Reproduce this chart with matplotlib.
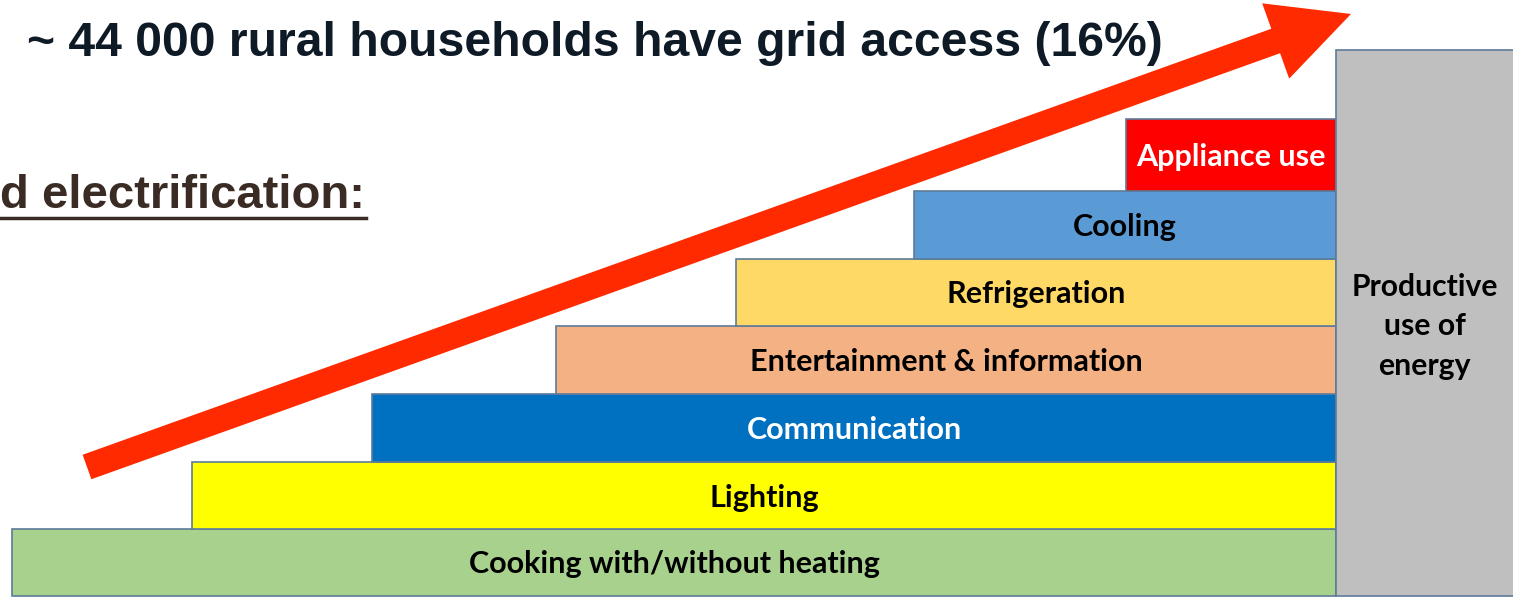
import matplotlib
matplotlib.use("Agg")
import matplotlib.pyplot as plt
from matplotlib.patches import FancyArrow, Rectangle

# ---- data ----
categories = ["Cooking with/without heating", "Lighting", "Communication",
              "Entertainment & information", "Refrigeration", "Cooling",
              "Appliance use"]
step_start = [12, 192, 372, 556, 736, 914, 1126]      # left edge of each step
step_end = 1336
row_edges = [596, 529, 462, 394, 326, 259, 191, 119]  # bottom -> top
colors = ["#A9D18E", "#FFFF00", "#0070C0", "#F4B183", "#FFD966", "#5B9BD5", "#FF0000"]
text_colors = ["black", "black", "white", "black", "black", "black", "white"]
side_label = "Productive\nuse of\nenergy"
title = "~ 44 000 rural households have grid access (16%)"
subtitle = "d electrification:"

W, H = 1513, 597
fig = plt.figure(figsize=(W / 100, H / 100), dpi=100)
ax = fig.add_axes([0, 0, 1, 1])
ax.set_xlim(0, W)
ax.set_ylim(H, 0)
ax.axis("off")

edge = "#5E7B9A"
label_font = ["Lato", "DejaVu Sans"]

for i, cat in enumerate(categories):
    bottom = row_edges[i]
    top = row_edges[i + 1]
    ax.barh((bottom + top) / 2, step_end - step_start[i], left=step_start[i],
            height=bottom - top, color=colors[i], edgecolor=edge, linewidth=1.2,
            zorder=2)
    ax.text((step_start[i] + step_end) / 2, (bottom + top) / 2 + 2, cat,
            ha="center", va="center", fontsize=22, fontweight="bold",
            family=label_font, color=text_colors[i], zorder=3)

# grey productive-use column
ax.add_patch(Rectangle((step_end, 50), W - step_end + 5, 546, facecolor="#BFBFBF",
                       edgecolor=edge, linewidth=1.2, zorder=2))
ax.text((step_end + W) / 2, 326, side_label, ha="center", va="center",
        fontsize=21.7, fontweight="bold", family=label_font, color="black",
        linespacing=1.5, zorder=3)

# big arrow
x0, y0 = 87, 467
x1, y1 = 1351, 14
ax.add_patch(FancyArrow(x0, y0, x1 - x0, y1 - y0, width=26, head_width=80,
                        head_length=80, length_includes_head=True,
                        color="#FF2A00", linewidth=0, zorder=4))

ax.text(27, 43, title, ha="left", va="center", fontsize=34.7, fontweight="bold",
        family=["Liberation Sans", "DejaVu Sans"], color="#0E1A26", zorder=5)

ax.text(0, 196, subtitle, ha="left", va="center", fontsize=34, fontweight="bold",
        family=["Liberation Sans", "DejaVu Sans"], color="#3A2C24", zorder=5)
ax.plot([0, 366], [218, 218], color="#3A2C24", linewidth=2.5, zorder=5)

fig.savefig("out.png", dpi=100)
